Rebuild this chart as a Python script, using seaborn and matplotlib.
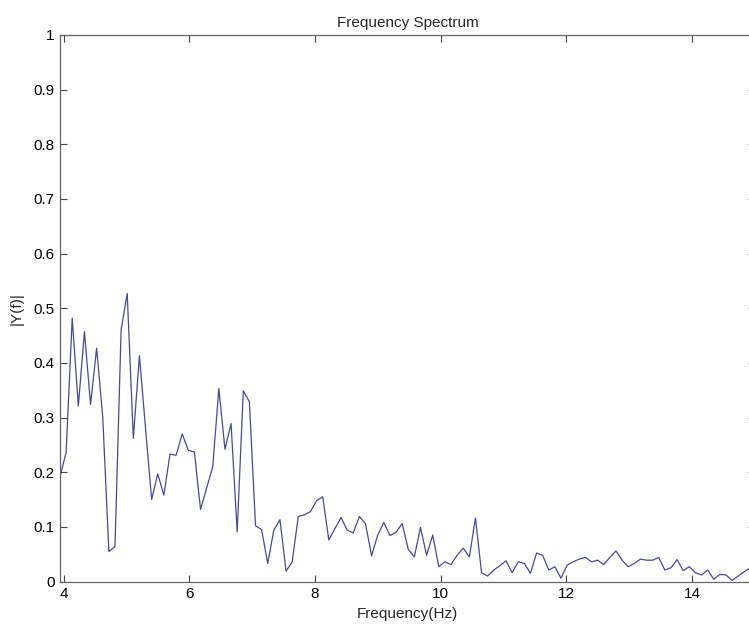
import numpy as np
import matplotlib
matplotlib.use("Agg")
import matplotlib.pyplot as plt
import seaborn as sns

# frequency grid of the spectrum (first bin and bin width)
freq_start = 3.943
freq_step = 0.0972

# |Y(f)|, one value per bin
magnitude = [
    0.192, 0.236, 0.482, 0.321, 0.457, 0.324, 0.427, 0.300, 0.055, 0.064,
    0.460, 0.527, 0.262, 0.413, 0.280, 0.150, 0.197, 0.158, 0.233, 0.231,
    0.270, 0.240, 0.237, 0.132, 0.171, 0.210, 0.353, 0.242, 0.289, 0.091,
    0.349, 0.329, 0.102, 0.095, 0.033, 0.094, 0.113, 0.019, 0.036, 0.119,
    0.122, 0.128, 0.148, 0.155, 0.076, 0.097, 0.117, 0.094, 0.089, 0.119,
    0.106, 0.047, 0.085, 0.108, 0.084, 0.090, 0.106, 0.059, 0.045, 0.099,
    0.048, 0.085, 0.027, 0.036, 0.031, 0.048, 0.061, 0.045, 0.116, 0.016,
    0.010, 0.021, 0.029, 0.038, 0.016, 0.036, 0.033, 0.015, 0.052, 0.048,
    0.021, 0.027, 0.006, 0.030, 0.036, 0.041, 0.044, 0.036, 0.039, 0.031,
    0.044, 0.056, 0.039, 0.027, 0.033, 0.041, 0.039, 0.039, 0.044, 0.021,
    0.025, 0.040, 0.020, 0.027, 0.016, 0.012, 0.021, 0.004, 0.013, 0.012,
    0.002, 0.010, 0.018, 0.025,
]
freq = freq_start + freq_step * np.arange(len(magnitude))

x_ticks = [4, 6, 8, 10, 12, 14]
y_ticks = [0, 0.1, 0.2, 0.3, 0.4, 0.5, 0.6, 0.7, 0.8, 0.9, 1]
y_tick_labels = ["0", "0.1", "0.2", "0.3", "0.4", "0.5", "0.6", "0.7", "0.8", "0.9", "1"]

sns.set_theme(style="ticks")
plt.rcParams["font.family"] = ["Liberation Sans", "DejaVu Sans"]

fig = plt.figure(figsize=(7.49, 6.29), dpi=100)
ax = fig.add_axes([60 / 749, 47.5 / 629, 695 / 749, 546.5 / 629])

sns.lineplot(x=freq, y=magnitude, ax=ax, color="#454a9a", linewidth=0.9,
             sort=False, estimator=None)

ax.set_xlim(freq_start, 15)
ax.set_ylim(0, 1)
ax.set_xticks(x_ticks)
ax.set_xticklabels([str(t) for t in x_ticks])
ax.set_yticks(y_ticks)
ax.set_yticklabels(y_tick_labels)

ax.tick_params(direction="in", length=5, width=0.8, color="#444444",
               labelsize=11, labelcolor="black",
               top=True, right=True, pad=4)
for s in ax.spines.values():
    s.set_color("#666666")
    s.set_linewidth(0.9)

ax.set_title("Frequency Spectrum", fontsize=11, pad=6)
ax.set_xlabel("Frequency(Hz)", fontsize=11, labelpad=4)
ax.set_ylabel("|Y(f)|", fontsize=11, labelpad=7)

fig.savefig("out.png", dpi=100, facecolor="white")
